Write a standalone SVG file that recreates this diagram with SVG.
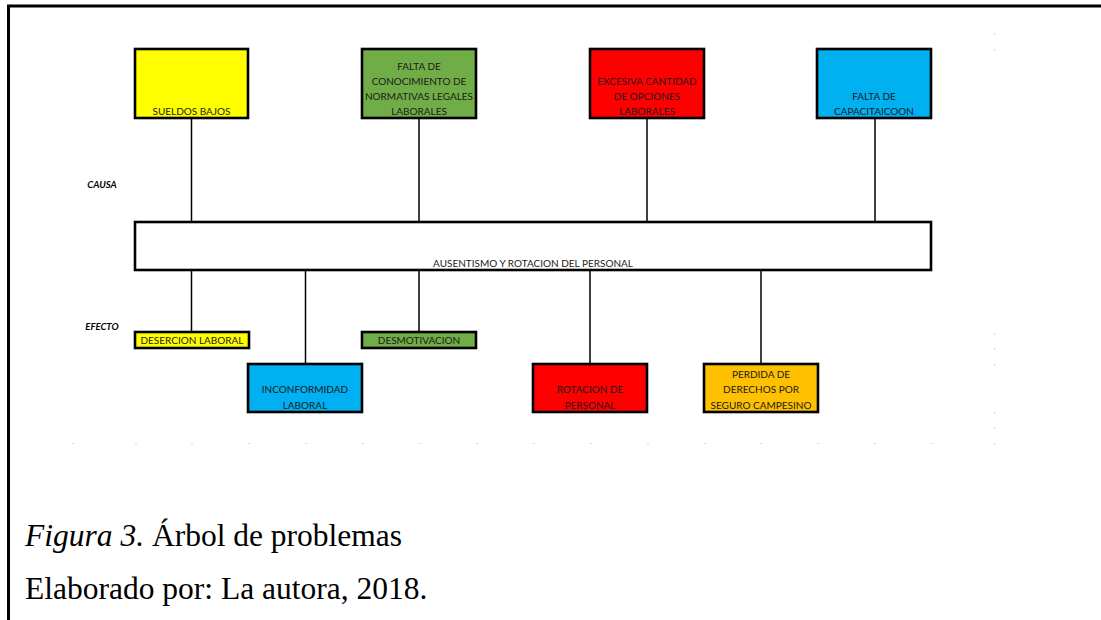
<svg xmlns="http://www.w3.org/2000/svg" width="1101" height="620" viewBox="0 0 1101 620">
<style>
.box{stroke:#000;stroke-width:2.6}
.lbl{font-family:Lato,"Liberation Sans",Arial,sans-serif;font-size:10px;fill:#1a1a1a;text-anchor:middle}
.side{font-family:Lato,"Liberation Sans",Arial,sans-serif;font-size:9.5px;font-weight:bold;font-style:italic;fill:#000;text-anchor:middle}
.cap{font-family:"Liberation Serif","Times New Roman",serif;font-size:31.5px;fill:#000}
.conn line{stroke:#000;stroke-width:1.5}
.dot{fill:#d9d9d9}
</style>
<rect width="1101" height="620" fill="#fff"/>
<g id="frame">
<line x1="7" y1="6" x2="1101" y2="6" stroke="#000" stroke-width="3"/>
<line x1="8.5" y1="5" x2="8.5" y2="620" stroke="#000" stroke-width="3"/>
</g>
<g id="grid-dots">
<rect class="dot" x="72" y="443" width="2" height="1"/>
<rect class="dot" x="135" y="443" width="2" height="1"/>
<rect class="dot" x="191" y="443" width="2" height="1"/>
<rect class="dot" x="248" y="443" width="2" height="1"/>
<rect class="dot" x="305" y="443" width="2" height="1"/>
<rect class="dot" x="362" y="443" width="2" height="1"/>
<rect class="dot" x="419" y="443" width="2" height="1"/>
<rect class="dot" x="476" y="443" width="2" height="1"/>
<rect class="dot" x="533" y="443" width="2" height="1"/>
<rect class="dot" x="590" y="443" width="2" height="1"/>
<rect class="dot" x="647" y="443" width="2" height="1"/>
<rect class="dot" x="704" y="443" width="2" height="1"/>
<rect class="dot" x="760" y="443" width="2" height="1"/>
<rect class="dot" x="817" y="443" width="2" height="1"/>
<rect class="dot" x="874" y="443" width="2" height="1"/>
<rect class="dot" x="931" y="443" width="2" height="1"/>
<rect class="dot" x="994" y="443" width="1" height="2"/>
<rect class="dot" x="994" y="33" width="1" height="2"/>
<rect class="dot" x="994" y="49" width="1" height="2"/>
<rect class="dot" x="994" y="333" width="1" height="2"/>
<rect class="dot" x="994" y="348" width="1" height="2"/>
<rect class="dot" x="994" y="364" width="1" height="2"/>
<rect class="dot" x="994" y="412" width="1" height="2"/>
<rect class="dot" x="994" y="427" width="1" height="2"/>
</g>
<g id="connectors" class="conn">
<line x1="191.5" y1="118" x2="191.5" y2="222"/>
<line x1="419" y1="118" x2="419" y2="222"/>
<line x1="647" y1="118" x2="647" y2="222"/>
<line x1="875" y1="118" x2="875" y2="222"/>
<line x1="191.5" y1="270" x2="191.5" y2="332"/>
<line x1="305.5" y1="270" x2="305.5" y2="364" stroke-width="1"/>
<line x1="419" y1="270" x2="419" y2="332" stroke-width="1.2"/>
<line x1="590" y1="270" x2="590" y2="364"/>
<line x1="761" y1="270" x2="761" y2="364"/>
</g>
<g id="causa-label"><text class="side" x="102" y="188">CAUSA</text></g>
<g id="efecto-label"><text class="side" x="102" y="330">EFECTO</text></g>
<g id="sueldos-bajos">
<rect class="box" x="135" y="49" width="113" height="69" fill="#FFFF00"/>
<text class="lbl" x="191.5" y="114.5">SUELDOS BAJOS</text>
</g>
<g id="falta-conocimiento">
<rect class="box" x="362" y="49" width="114" height="69" fill="#70AD47"/>
<text class="lbl" x="419" y="69.5">FALTA DE</text>
<text class="lbl" x="419" y="84.5">CONOCIMIENTO DE</text>
<text class="lbl" x="419" y="99.5">NORMATIVAS LEGALES</text>
<text class="lbl" x="419" y="114.5">LABORALES</text>
</g>
<g id="excesiva-cantidad">
<rect class="box" x="590" y="49" width="114" height="69" fill="#FF0000"/>
<text class="lbl" x="647" y="84.5">EXCESIVA CANTIDAD</text>
<text class="lbl" x="647" y="99.5">DE OPCIONES</text>
<text class="lbl" x="647" y="114.5">LABORALES</text>
</g>
<g id="falta-capacitacion">
<rect class="box" x="817" y="49" width="114" height="69" fill="#00B0F0"/>
<text class="lbl" x="874" y="99.5">FALTA DE</text>
<text class="lbl" x="874" y="114.5">CAPACITAICOON</text>
</g>
<g id="problema-central">
<rect class="box" x="135" y="222" width="796" height="48" fill="#fff"/>
<text class="lbl" x="533" y="266.5">AUSENTISMO Y ROTACION DEL PERSONAL</text>
</g>
<g id="desercion-laboral">
<rect class="box" x="135" y="332" width="114" height="16" fill="#FFFF00"/>
<text class="lbl" x="192" y="343.5">DESERCION LABORAL</text>
</g>
<g id="desmotivacion">
<rect class="box" x="362" y="332" width="114" height="16" fill="#70AD47"/>
<text class="lbl" x="419" y="343.5">DESMOTIVACION</text>
</g>
<g id="inconformidad-laboral">
<rect class="box" x="248" y="364" width="114" height="48" fill="#00B0F0"/>
<text class="lbl" x="305" y="392.5">INCONFORMIDAD</text>
<text class="lbl" x="305" y="408.5">LABORAL</text>
</g>
<g id="rotacion-personal">
<rect class="box" x="533" y="364" width="114" height="48" fill="#FF0000"/>
<text class="lbl" x="590" y="392.5">ROTACION DE</text>
<text class="lbl" x="590" y="408.5">PERSONAL</text>
</g>
<g id="perdida-derechos">
<rect class="box" x="704" y="364" width="114" height="48" fill="#FFC000"/>
<text class="lbl" x="761" y="377.5">PERDIDA DE</text>
<text class="lbl" x="761" y="392.5">DERECHOS POR</text>
<text class="lbl" x="761" y="408.5">SEGURO CAMPESINO</text>
</g>
<g id="caption">
<text class="cap" x="25" y="546"><tspan font-style="italic">Figura 3.</tspan> Árbol de problemas</text>
<text class="cap" x="25" y="599">Elaborado por: La autora, 2018.</text>
</g>
</svg>
